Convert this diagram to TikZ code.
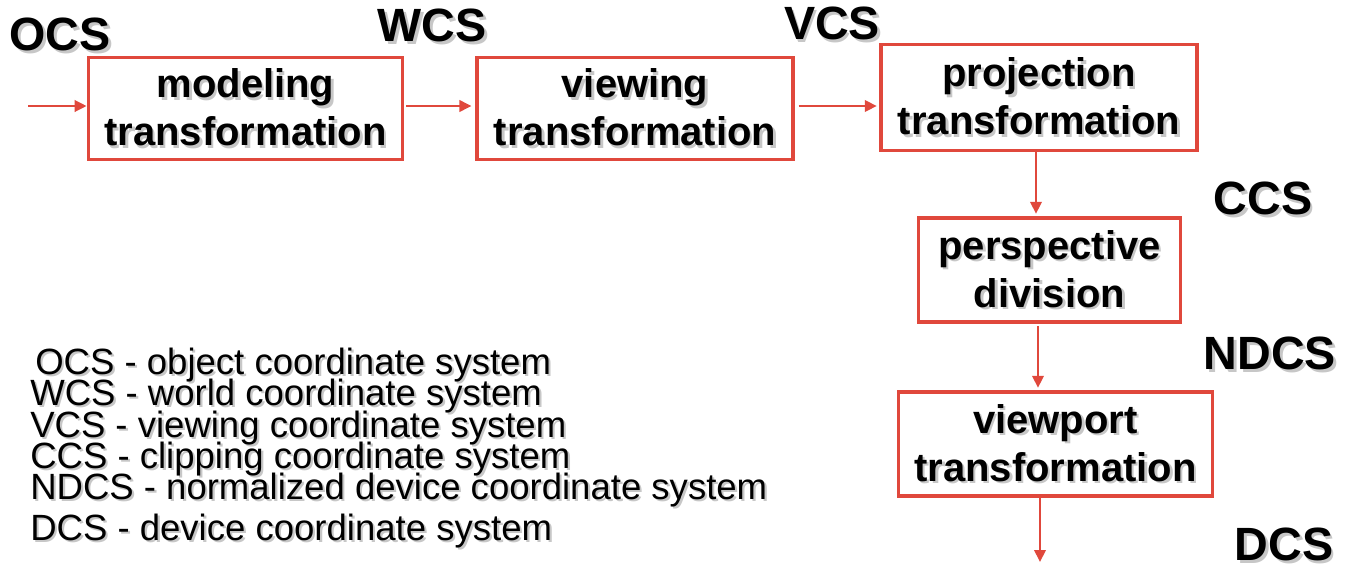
\documentclass[tikz,border=0pt]{standalone}
\usepackage{fontspec}
\setmainfont{Liberation Sans}
\usetikzlibrary{arrows.meta}
\definecolor{boxred}{RGB}{224,72,60}
% text with a soft grey drop shadow
\newcommand\shtxt[1]{\makebox[0pt][l]{\hspace{0.06em}\raisebox{-0.06em}{\color{black!22}#1}}#1}
\tikzset{
  stage/.style={draw=boxred, line width=2.3pt, inner sep=0pt, align=center,
    font=\fontsize{30}{36}\selectfont\bfseries},
  flow/.style={draw=boxred, line width=2pt, -{Triangle[length=9pt,width=8.5pt]}},
  cslabel/.style={inner sep=0pt, font=\fontsize{35}{40}\selectfont\bfseries},
  legend/.style={inner sep=0pt, anchor=base west, font=\fontsize{27.4}{30}\selectfont}
}
\begin{document}
\begin{tikzpicture}[x=0.75pt,y=-0.75pt]
\path[use as bounding box] (0,0) rectangle (1346,565);

% transformation stages
\node[stage, minimum width=236pt, minimum height=77pt] (model) at (245.5,108.5)
  {\shtxt{modeling}\\\shtxt{transformation}};
\node[stage, minimum width=237pt, minimum height=77pt] (view) at (635,108.5)
  {\shtxt{viewing}\\\shtxt{transformation}};
\node[stage, minimum width=237pt, minimum height=79pt] (proj) at (1039,97.5)
  {\shtxt{projection}\\\shtxt{transformation}};
\node[stage, minimum width=196pt, minimum height=78pt] (persp) at (1049.5,270)
  {\shtxt{perspective}\\\shtxt{division}};
\node[stage, minimum width=236pt, minimum height=78pt] (vport) at (1055.5,444)
  {\shtxt{viewport}\\\shtxt{transformation}};

% free ends of the pipeline
\coordinate (in) at (28,106);
\coordinate (out) at (1040,562);

% connectors
\draw[flow] (in) -- (model.west |- in);
\draw[flow] (model.east |- in) ++(2,0) -- ([xshift=-3pt]view.west |- in);
\draw[flow] (view.east |- in) ++(4,0) -- ([xshift=-2pt]proj.west |- in);
\draw[flow] (proj.south -| 1036,0) -- ([yshift=2pt]persp.north -| 1036,0);
\draw[flow] ([yshift=-2pt]persp.south -| 1038,0) -- ([yshift=2pt]vport.north -| 1038,0);
\draw[flow] (vport.south -| out) -- (out);

% coordinate system labels
\node[cslabel] (ocs) at (60,36) {\shtxt{OCS}};
\node[cslabel] (wcs) at (432,27) {\shtxt{WCS}};
\node[cslabel] (vcs) at (832,25) {\shtxt{VCS}};
\node[cslabel] (ccs) at (1263,200) {\shtxt{CCS}};
\node[cslabel] (ndcs) at (1270,355) {\shtxt{NDCS}};
\node[cslabel] (dcs) at (1284,546) {\shtxt{DCS}};

% legend
\node[legend] (l1) at (35,374) {\shtxt{OCS - object coordinate system}};
\node[legend] (l2) at (30,405) {\shtxt{WCS - world coordinate system}};
\node[legend] (l3) at (30,437) {\shtxt{VCS - viewing coordinate system}};
\node[legend] (l4) at (30,468) {\shtxt{CCS - clipping coordinate system}};
\node[legend] (l5) at (30,499) {\shtxt{NDCS - normalized device coordinate system}};
\node[legend] (l6) at (30,540) {\shtxt{DCS - device coordinate system}};
\end{tikzpicture}
\end{document}
